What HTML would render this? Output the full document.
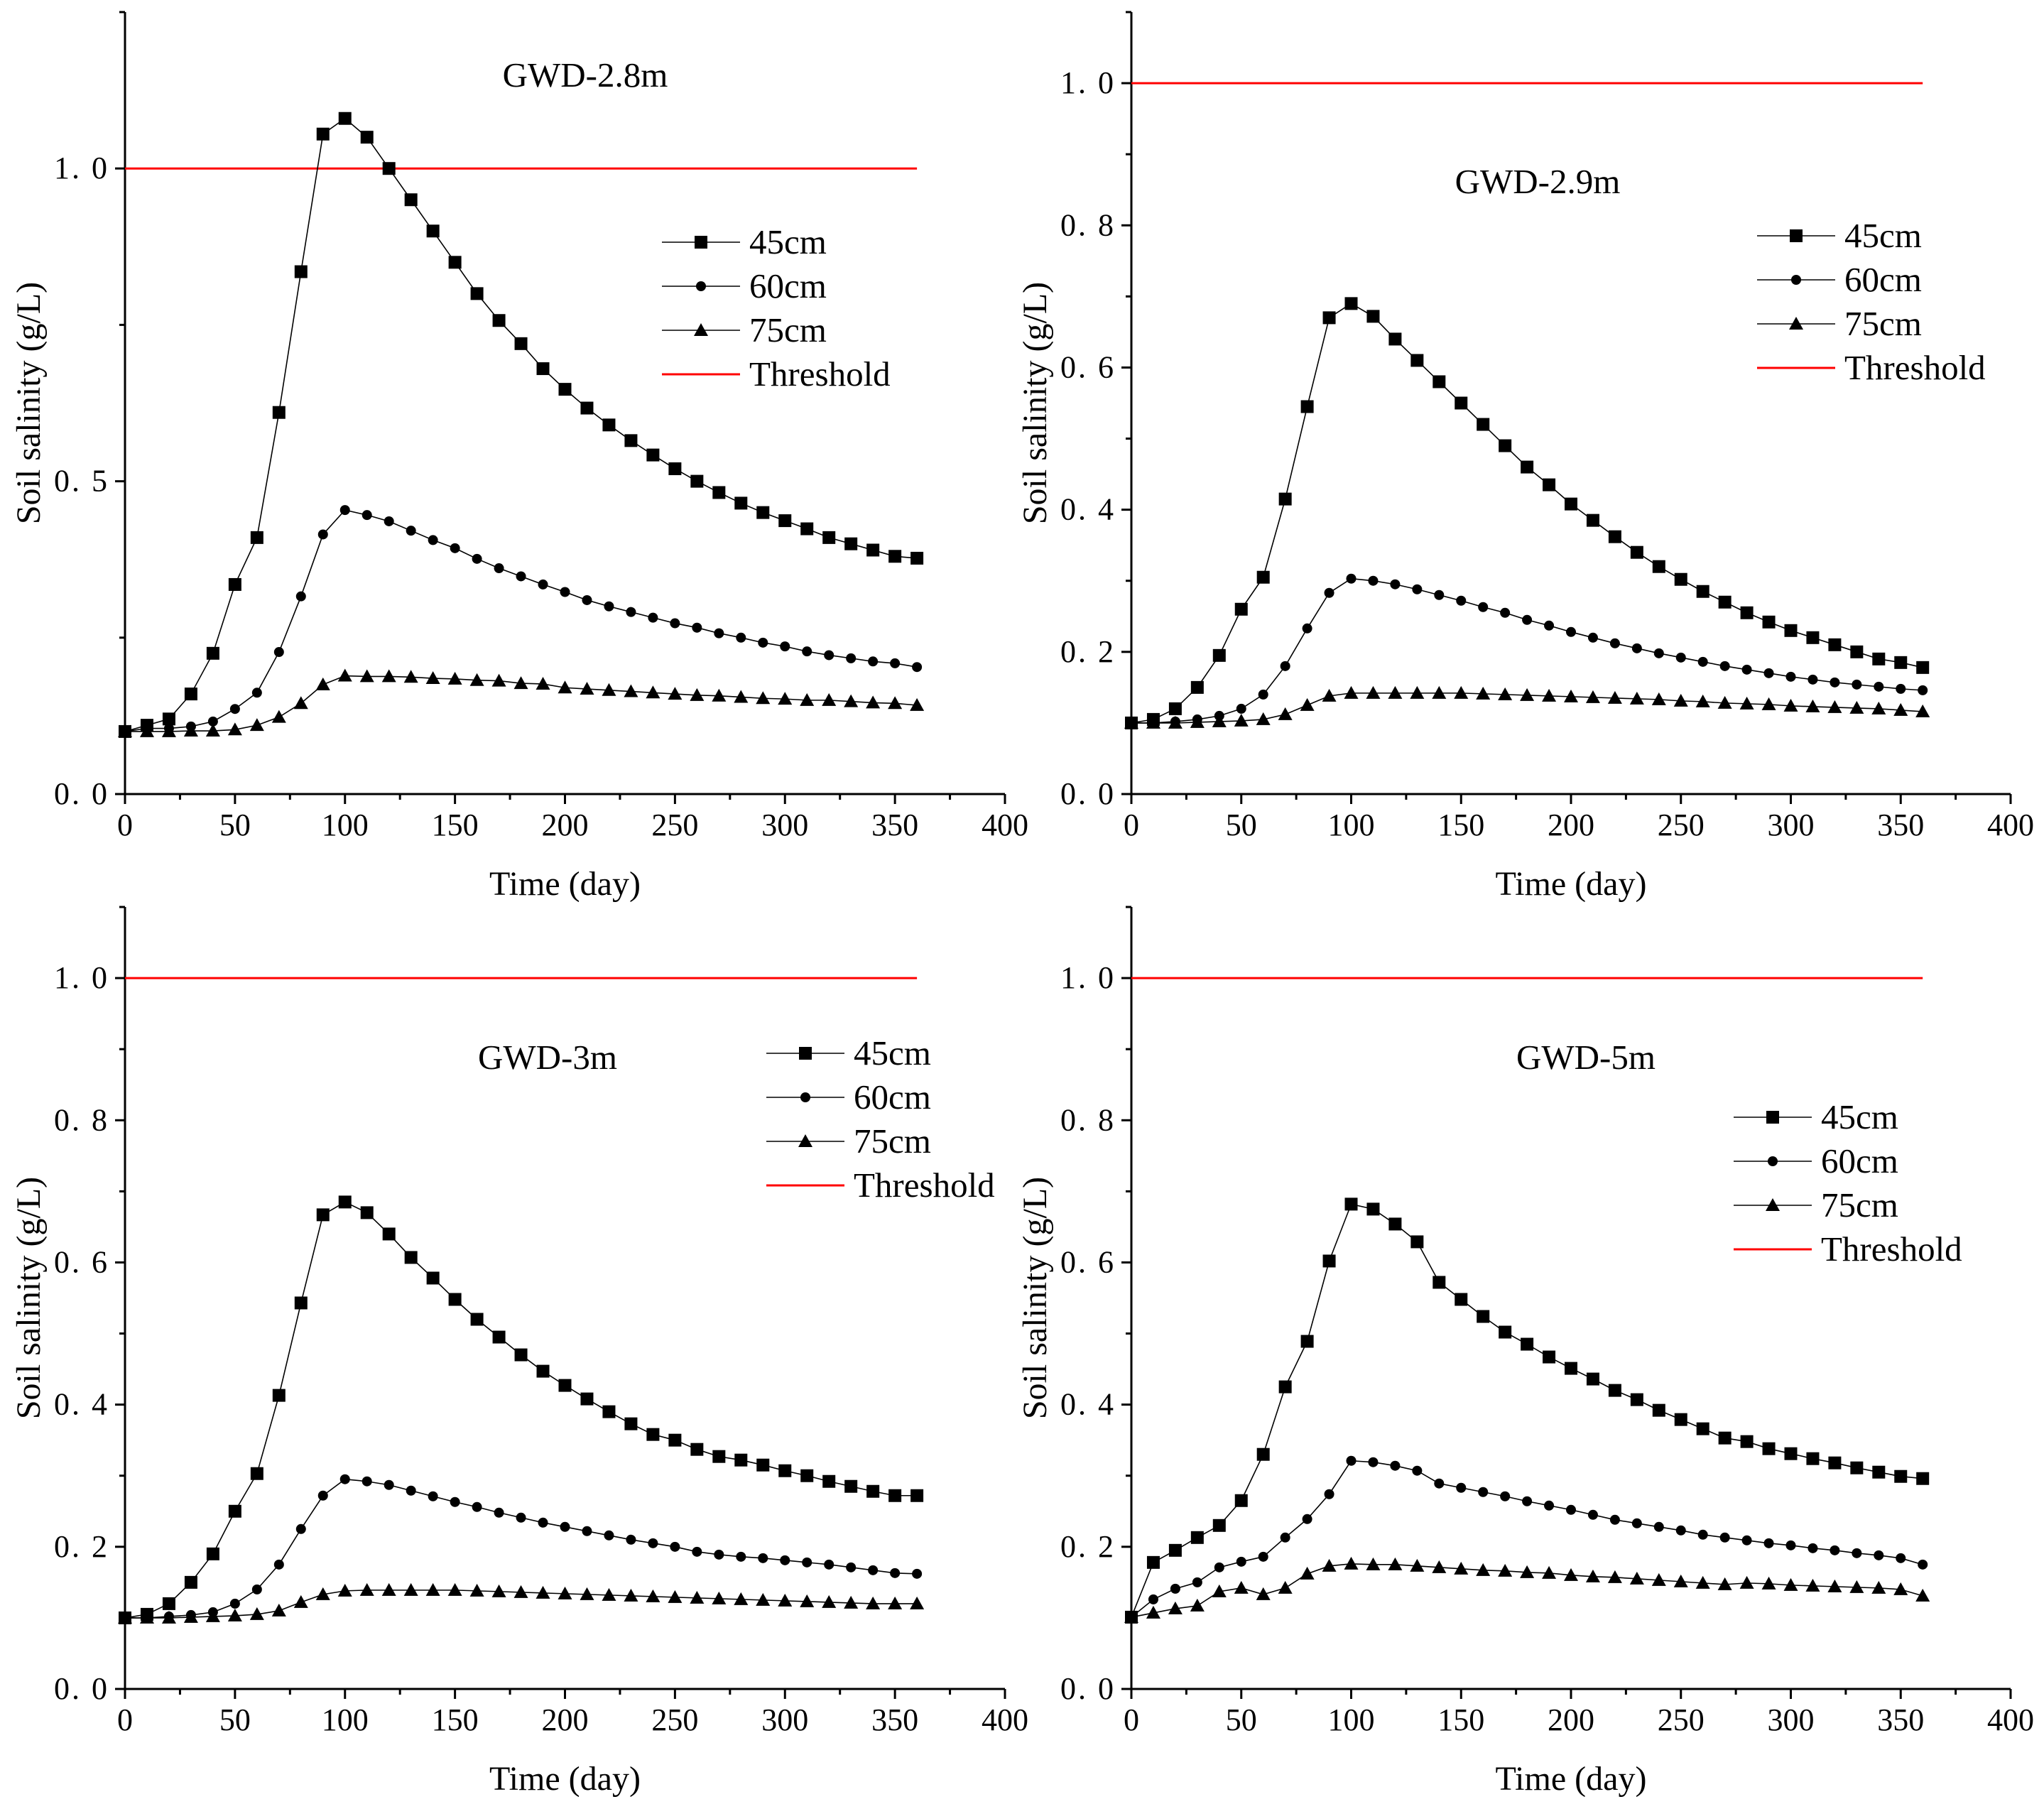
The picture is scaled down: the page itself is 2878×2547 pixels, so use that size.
<!DOCTYPE html>
<html><head><meta charset="utf-8"><style>
html,body{margin:0;padding:0;background:#fff}
svg{display:block}
svg text{font-family:"Liberation Serif","Times New Roman",serif;fill:#000}
</style></head><body>
<svg id="chart" width="2878" height="2547" viewBox="0 0 2878 2547" xmlns="http://www.w3.org/2000/svg" font-family="Liberation Serif, serif"></svg>
<script>
const days=[0,10,20,30,40,50,60,70,80,90,100,110,120,130,140,150,160,170,180,190,200,210,220,230,240,250,260,270,280,290,300,310,320,330,340,350,360];
const xTicks=[0,50,100,150,200,250,300,350,400];
const threshold=1.0;
const seriesNames=["45cm","60cm","75cm"];

const a45=[0.10,0.11,0.12,0.16,0.225,0.335,0.41,0.61,0.835,1.055,1.08,1.05,1.0,0.95,0.9,0.85,0.80,0.757,0.72,0.68,0.647,0.617,0.59,0.565,0.542,0.52,0.50,0.482,0.465,0.45,0.437,0.424,0.41,0.40,0.39,0.38,0.377];
const a60=[0.10,0.105,0.105,0.108,0.116,0.136,0.162,0.227,0.316,0.415,0.454,0.446,0.436,0.421,0.406,0.393,0.376,0.361,0.348,0.335,0.323,0.31,0.30,0.291,0.282,0.273,0.266,0.257,0.25,0.242,0.236,0.228,0.222,0.217,0.212,0.209,0.203];
const a75=[0.10,0.10,0.10,0.101,0.101,0.103,0.110,0.123,0.145,0.175,0.189,0.188,0.188,0.187,0.185,0.184,0.182,0.181,0.177,0.176,0.17,0.168,0.166,0.164,0.162,0.16,0.158,0.157,0.155,0.153,0.152,0.150,0.150,0.148,0.146,0.145,0.142];

const b45=[0.10,0.105,0.12,0.15,0.195,0.26,0.305,0.415,0.545,0.67,0.69,0.672,0.64,0.61,0.58,0.55,0.52,0.49,0.46,0.435,0.408,0.385,0.362,0.34,0.32,0.302,0.285,0.27,0.255,0.242,0.23,0.22,0.21,0.20,0.19,0.185,0.178];
const b60=[0.10,0.10,0.102,0.105,0.11,0.12,0.14,0.18,0.233,0.283,0.303,0.30,0.295,0.288,0.28,0.272,0.263,0.255,0.245,0.237,0.228,0.22,0.212,0.205,0.198,0.192,0.186,0.18,0.175,0.17,0.165,0.161,0.157,0.154,0.151,0.148,0.146];
const b75=[0.10,0.10,0.10,0.101,0.102,0.103,0.105,0.112,0.125,0.138,0.142,0.142,0.142,0.142,0.142,0.142,0.141,0.14,0.139,0.138,0.137,0.136,0.135,0.134,0.133,0.131,0.13,0.128,0.127,0.126,0.124,0.123,0.122,0.121,0.12,0.118,0.116];

const c45=[0.10,0.105,0.12,0.15,0.19,0.25,0.303,0.413,0.543,0.667,0.685,0.67,0.64,0.607,0.578,0.548,0.52,0.495,0.47,0.447,0.427,0.408,0.39,0.373,0.358,0.35,0.337,0.327,0.322,0.315,0.307,0.3,0.292,0.285,0.278,0.272,0.272];
const c60=[0.10,0.10,0.102,0.104,0.108,0.12,0.14,0.175,0.225,0.272,0.295,0.292,0.287,0.279,0.271,0.263,0.256,0.248,0.241,0.234,0.228,0.222,0.216,0.21,0.205,0.2,0.193,0.189,0.186,0.184,0.181,0.178,0.175,0.171,0.167,0.163,0.162];
const c75=[0.10,0.10,0.10,0.101,0.102,0.103,0.105,0.11,0.122,0.133,0.138,0.139,0.139,0.139,0.139,0.139,0.138,0.137,0.136,0.135,0.134,0.133,0.132,0.131,0.130,0.129,0.128,0.127,0.126,0.125,0.124,0.123,0.122,0.121,0.120,0.120,0.120];

const d45=[0.101,0.178,0.195,0.213,0.23,0.265,0.33,0.425,0.489,0.602,0.682,0.675,0.654,0.629,0.572,0.548,0.524,0.502,0.485,0.467,0.451,0.436,0.42,0.407,0.392,0.379,0.366,0.353,0.348,0.338,0.331,0.324,0.318,0.311,0.305,0.299,0.296];
const d60=[0.101,0.126,0.141,0.15,0.171,0.179,0.186,0.213,0.239,0.274,0.321,0.319,0.314,0.307,0.289,0.283,0.277,0.271,0.264,0.258,0.252,0.245,0.238,0.233,0.228,0.223,0.217,0.213,0.209,0.205,0.202,0.198,0.195,0.191,0.188,0.184,0.175];
const d75=[0.101,0.107,0.113,0.117,0.137,0.142,0.133,0.142,0.162,0.173,0.176,0.175,0.175,0.173,0.171,0.169,0.167,0.166,0.164,0.163,0.16,0.158,0.157,0.155,0.153,0.151,0.149,0.147,0.149,0.148,0.146,0.145,0.144,0.143,0.142,0.14,0.131];

const yTicksA=[0,0.5,1.0];
const yTicksB=[0,0.2,0.4,0.6,0.8,1.0];
const yLabelsA=["0. 0","0. 5","1. 0"];
const yLabelsB=["0. 0","0. 2","0. 4","0. 6","0. 8","1. 0"];
const titles=["GWD-2.8m","GWD-2.9m","GWD-3m","GWD-5m"];

const NS="http://www.w3.org/2000/svg";
const svg=document.getElementById('chart');
const FONT='"Liberation Serif", serif';
function mk(tag,attrs,parent){const e=document.createElementNS(NS,tag);for(const k in attrs)e.setAttribute(k,attrs[k]);if(tag==='text')e.style.fontFamily=FONT;(parent||svg).appendChild(e);return e;}

const panels=[
 {x0:176,x1:1415,y0:1118,ymax:1.25,yt:yTicksA,yl:yLabelsA,minor:0.25,data:[a45,a60,a75],title:titles[0],tx:824,ty:122,lx:932,ly:341,yTitleX:40},
 {x0:1593,x1:2831,y0:1118,ymax:1.1,yt:yTicksB,yl:yLabelsB,minor:0.1,data:[b45,b60,b75],title:titles[1],tx:2165,ty:272,lx:2474,ly:332,yTitleX:1457},
 {x0:176,x1:1415,y0:2378,ymax:1.1,yt:yTicksB,yl:yLabelsB,minor:0.1,data:[c45,c60,c75],title:titles[2],tx:771,ty:1505,lx:1079,ly:1483,yTitleX:40},
 {x0:1593,x1:2831,y0:2378,ymax:1.1,yt:yTicksB,yl:yLabelsB,minor:0.1,data:[d45,d60,d75],title:titles[3],tx:2233,ty:1505,lx:2441,ly:1573,yTitleX:1457}
];

function marker(kind,x,y,g){
  if(kind===0) return mk('rect',{x:x-9,y:y-9,width:18,height:18,fill:'#000'},g);
  if(kind===1) return mk('circle',{cx:x,cy:y,r:7,fill:'#000'},g);
  return mk('polygon',{points:`${x},${y-10} ${x+10},${y+8} ${x-10},${y+8}`,fill:'#000'},g);
}

panels.forEach((p)=>{
  const top=p.y0-1101;
  const g=mk('g',{});
  
  
  const X=v=>p.x0+(v/400)*(p.x1-p.x0);
  const Y=v=>p.y0-(v/p.ymax)*(p.y0-top);
  const xa=mk('line',{x1:p.x0,y1:p.y0,x2:p.x1,y2:p.y0,stroke:'#000','stroke-width':3},g);
  
  
  const ya=mk('line',{x1:p.x0,y1:p.y0,x2:p.x0,y2:top,stroke:'#000','stroke-width':3},g);
  
  
  for(let v=0;v<=400;v+=25){
    const maj=v%50===0;
    mk('line',{x1:X(v),y1:p.y0,x2:X(v),y2:p.y0+(maj?14:8),stroke:'#000','stroke-width':3},g);
  }
  xTicks.forEach(v=>{
    const t=mk('text',{x:X(v),y:p.y0+58,'text-anchor':'middle','font-size':44},g);
    t.textContent=v;
    
    
  });
  for(let v=0;v<=p.ymax+1e-6;v+=p.minor){
    const maj=p.yt.some(t=>Math.abs(t-v)<1e-6);
    mk('line',{x1:p.x0,y1:Y(v),x2:p.x0-(maj?14:8),y2:Y(v),stroke:'#000','stroke-width':3},g);
  }
  p.yt.forEach((v,i)=>{
    const t=mk('text',{x:p.x0-22,y:Y(v)+14,'text-anchor':'end','font-size':44,'letter-spacing':3},g);
    t.textContent=p.yl[i];
    
    
  });
  const xt=mk('text',{x:(X(0)+X(400))/2,y:p.y0+142,'text-anchor':'middle','font-size':48},g);
  xt.textContent='Time (day)';
  
  
  const yc=(p.y0+top)/2;
  const yT=mk('text',{x:p.yTitleX,y:yc,'text-anchor':'middle','font-size':48,transform:`rotate(-90 ${p.yTitleX} ${yc})`,dy:16},g);
  yT.textContent='Soil salinity (g/L)';
  
  
  const th=mk('line',{x1:X(0),y1:Y(threshold),x2:X(360),y2:Y(threshold),stroke:'#ff0000','stroke-width':3},g);
  
  
  p.data.forEach((arr,si)=>{
    const sg=mk('g',{},g);
    
    
    const pts=arr.map((v,i)=>X(days[i])+','+Y(v)).join(' ');
    mk('polyline',{points:pts,fill:'none',stroke:'#000','stroke-width':1.6},sg);
    arr.forEach((v,i)=>{
      const m=marker(si,X(days[i]),Y(v),sg);
      
      
    });
  });
  const tt=mk('text',{x:p.tx,y:p.ty,'text-anchor':'middle','font-size':49},g);
  tt.textContent=p.title;
  
  
  const lg=mk('g',{},g);
  
  
  const labels=[...seriesNames,'Threshold'];
  labels.forEach((lab,i)=>{
    const ly=p.ly+i*62;
    const e=mk('g',{},lg);
    
    
    mk('line',{x1:p.lx,y1:ly,x2:p.lx+110,y2:ly,stroke:i===3?'#ff0000':'#000','stroke-width':i===3?3:1.6},e);
    if(i<3) marker(i,p.lx+55,ly,e);
    const t=mk('text',{x:p.lx+123,y:ly+16,'font-size':49},e);
    t.textContent=lab;
  });
});
</script>
</body></html>
